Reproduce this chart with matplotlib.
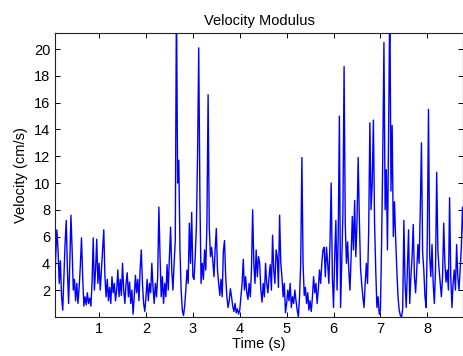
import numpy as np
import matplotlib
matplotlib.use("Agg")
import matplotlib.pyplot as plt

plt.rcParams['font.family'] = ['Liberation Sans', 'DejaVu Sans']

# velocity modulus (cm/s), one sample every 0.025 s starting at 0.05 s
seg0 = [2.0, 4.5, 6.5, 5.0, 2.5, 4.2, 1.5, 0.5, 3.0, 5.5,
        7.2, 3.5, 1.0, 4.0, 7.6, 5.0, 2.0, 2.8, 1.2, 2.5,
        1.0, 2.2, 3.8, 5.9, 3.0, 0.8, 1.5, 0.9, 1.8, 1.0,
        1.4, 0.8, 2.5, 5.9, 2.0, 3.5, 5.8, 2.5]
seg1 = [4.0, 2.0, 3.5, 5.0, 6.5, 3.0, 1.5, 2.8, 1.2, 2.2,
        1.0, 3.0, 1.8, 2.5, 1.2, 2.0, 3.5, 1.5, 2.8, 1.6,
        4.0, 2.0, 1.0, 2.5, 3.3, 1.5, 2.6, 1.0, 2.0, 0.2,
        1.5, 3.1, 1.8, 2.8, 1.2, 3.5, 5.0, 2.5, 1.0, 0.4]
seg2 = [1.5, 2.8, 1.2, 2.5, 1.8, 4.0, 2.2, 1.0, 2.5, 1.5,
        3.0, 8.2, 4.5, 1.5, 3.0, 1.0, 2.5, 1.5, 3.9, 2.0,
        4.5, 6.7, 3.5, 2.0, 4.0, 5.7, 24.0, 10.0, 11.7, 5.0,
        2.0, 0.5, 0.1, 0.8, 2.0, 3.5, 2.5, 7.0, 4.0, 7.8]
seg3 = [3.0, 2.8, 4.5, 6.7, 12.0, 20.1, 9.0, 2.5, 4.0, 2.8,
        5.0, 3.5, 7.0, 16.6, 6.7, 4.5, 5.2, 4.2, 3.0, 5.0,
        6.6, 3.5, 2.5, 1.6, 2.8, 1.5, 4.9, 5.7, 3.0, 1.5,
        0.7, 1.2, 2.1, 1.5, 0.8, 0.4, 1.0, 0.3, 0.6, 0.2]
seg4 = [0.5, 1.5, 2.5, 4.3, 2.0, 3.0, 1.8, 1.3, 2.5, 1.5,
        3.5, 8.0, 4.0, 2.5, 5.0, 3.0, 4.5, 4.0, 2.0, 1.1,
        2.5, 1.5, 4.0, 2.5, 1.8, 3.0, 3.9, 2.0, 6.1, 3.5,
        2.5, 5.0, 4.5, 2.2, 7.6, 4.0, 3.0, 1.5, 2.5, 0.3]
seg5 = [1.0, 2.0, 1.2, 2.5, 0.7, 1.5, 1.0, 2.0, 1.2, 0.5,
        0.0, 1.5, 4.0, 11.9, 4.0, 1.6, 2.2, 1.0, 1.8, 0.5,
        1.2, 0.4, 1.5, 3.0, 1.8, 2.5, 1.0, 2.0, 3.5, 2.5,
        4.0, 5.0, 5.2, 3.0, 5.2, 4.0, 2.5, 5.7, 10.0, 3.0]
seg6 = [0.7, 4.5, 7.2, 2.0, 6.0, 15.0, 0.7, 4.0, 7.8, 18.7,
        6.9, 4.0, 5.6, 3.5, 2.0, 4.5, 7.5, 5.0, 8.7, 4.5,
        7.0, 11.9, 7.4, 3.7, 2.5, 1.5, 0.7, 2.5, 4.0, 2.5,
        6.5, 14.5, 8.0, 10.0, 14.7, 7.0, 3.5, 0.7, 1.5, 0.2]
seg7 = [0.5, 5.5, 12.0, 20.5, 8.0, 11.0, 5.0, 14.0, 24.0, 9.4,
        14.3, 6.0, 8.6, 5.8, 3.5, 1.5, 0.5, 0.1, 0.0, 0.6,
        7.2, 2.5, 0.7, 3.5, 6.5, 1.0, 3.0, 4.5, 6.9, 3.0,
        1.8, 3.5, 5.4, 4.0, 8.0, 13.0, 4.8, 3.5, 1.5, 0.7]
seg8 = [6.0, 15.5, 4.6, 3.0, 5.4, 2.5, 1.0, 3.5, 10.8, 5.0,
        3.6, 2.5, 1.5, 3.0, 7.0, 4.0, 2.6, 3.5, 2.0, 8.9,
        3.0, 0.7, 2.5, 3.5, 2.0, 5.4, 3.0, 2.0, 3.5, 5.2,
        8.2, 6.0]

velocity = seg0 + seg1 + seg2 + seg3 + seg4 + seg5 + seg6 + seg7 + seg8
time = 0.05 + 0.025 * np.arange(len(velocity))

fig = plt.figure(figsize=(4.63, 3.56), dpi=100)
ax = fig.add_axes([0.119, 0.110, 0.881, 0.797])
ax.plot(time, velocity, color='#0000ff', linewidth=1.0)

ax.set_xlim(0.062, 8.761)
ax.set_ylim(0, 21.2)
ax.set_xticks(range(1, 9))
ax.set_yticks(range(2, 21, 2))
ax.tick_params(direction='in', top=True, right=True, length=3.5, width=0.7, labelsize=10.5)
for s in ax.spines.values():
    s.set_linewidth(0.8)
    s.set_color('#222222')

ax.set_title('Velocity Modulus', fontsize=10.5, pad=6)
ax.set_xlabel('Time (s)', fontsize=10.5, labelpad=1)
ax.set_ylabel('Velocity (cm/s)', fontsize=10.5, labelpad=4)

fig.savefig('out.png', dpi=100)
